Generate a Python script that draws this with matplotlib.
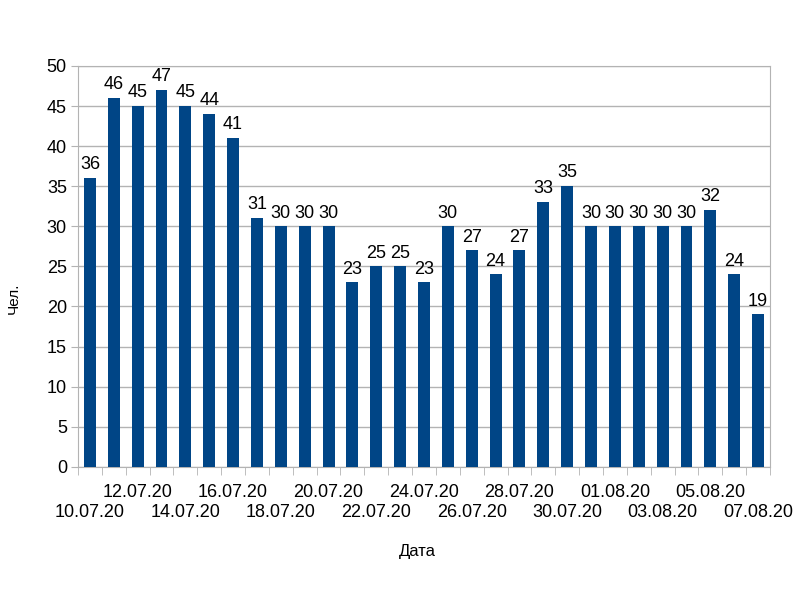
import matplotlib.pyplot as plt
import matplotlib.transforms as mtransforms
import numpy as np

plt.rcParams['font.family'] = ['Liberation Sans', 'DejaVu Sans']

dates = ['10.07.20', '11.07.20', '12.07.20', '13.07.20', '14.07.20', '15.07.20',
         '16.07.20', '17.07.20', '18.07.20', '19.07.20', '20.07.20', '21.07.20',
         '22.07.20', '23.07.20', '24.07.20', '25.07.20', '26.07.20', '27.07.20',
         '28.07.20', '29.07.20', '30.07.20', '31.07.20', '01.08.20', '02.08.20',
         '03.08.20', '04.08.20', '05.08.20', '06.08.20', '07.08.20']
people = [36, 46, 45, 47, 45, 44, 41, 31, 30, 30, 30, 23, 25, 25, 23, 30, 27,
          24, 27, 33, 35, 30, 30, 30, 30, 30, 32, 24, 19]

x = np.arange(len(dates))
grid_col = '#b3b3b3'

fig = plt.figure(figsize=(8, 6), dpi=100)
ax = fig.add_axes([0.0975, 0.222, 0.865, 0.668])

ax.bar(x, people, width=0.5, color='#004586', zorder=3)
for xi, v in zip(x, people):
    ax.text(xi, v + 0.6, str(v), ha='center', va='bottom', fontsize=13)

ax.set_xlim(-0.5, len(dates) - 0.5)
ax.set_ylim(0, 50)
ax.set_yticks(range(0, 51, 5))
ax.yaxis.grid(True, color=grid_col, linewidth=1, zorder=0)

# staggered date labels, every second day, drawn as texts
trans = mtransforms.blended_transform_factory(ax.transData, ax.transAxes)
for k, i in enumerate(range(0, len(dates), 2)):
    yy = -0.115 if k % 2 == 0 else -0.065
    ax.text(i, yy, dates[i], transform=trans, ha='center', va='center', fontsize=13)

ax.set_xticks([])
ax.set_xticks(np.arange(-0.5, len(dates), 1), minor=True)
ax.tick_params(axis='x', which='minor', length=6, color=grid_col)
ax.tick_params(axis='y', labelsize=13, length=5, color=grid_col, pad=3)

for s in ax.spines.values():
    s.set_color(grid_col)

ax.set_ylabel('Чел.', fontsize=11)
ax.yaxis.set_label_coords(-0.083, 0.42)
ax.set_xlabel('Дата', fontsize=12)
ax.xaxis.set_label_coords(0.491, -0.192)

fig.savefig('out.png')
